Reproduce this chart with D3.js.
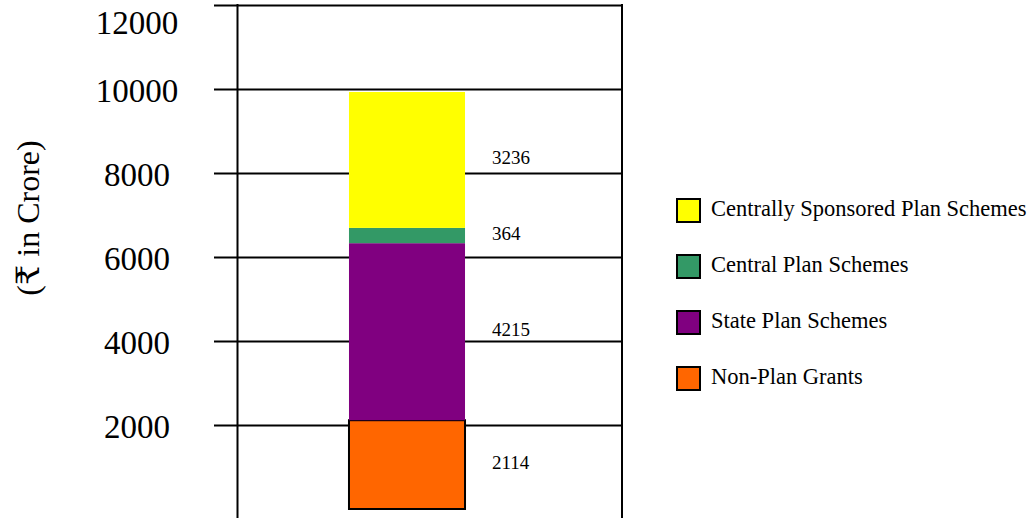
<!DOCTYPE html>
<html>
<head>
<meta charset="utf-8">
<script src="https://cdn.jsdelivr.net/npm/d3@7/dist/d3.min.js"></script>
<style>
  html, body { margin: 0; padding: 0; background: #fff; }
  svg { display: block; font-family: "Liberation Serif", "DejaVu Serif", serif; }
</style>
</head>
<body>
<div class="chartView"></div>
<script>
// --- data
var categories = ['Grants'];
var seriesNames = ['Non-Plan Grants', 'State Plan Schemes', 'Central Plan Schemes', 'Centrally Sponsored Plan Schemes'];
var seriesValues = [2114, 4215, 364, 3236];
var seriesColors = ['#ff6600', '#800080', '#339966', '#ffff00'];
var yTicks = [2000, 4000, 6000, 8000, 10000, 12000];
var yLabel = '(\u20B9 in Crore)';

var width = 1034, height = 518;

var svg = d3.select('.chartView').append('svg')
  .attr('width', width)
  .attr('height', height);

//scales
var y = d3.scaleLinear().domain([0, 12000]).range([509, 5]);
var x = d3.scaleBand().domain(categories).range([237.5, 576.5]).padding(0.49);
var plotLeft = 237.5, plotRight = 622, tickLeft = 214;

//gridlines + tick labels, drawn from the right edge leftwards
var axis = svg.append('g')
  .attr('transform', 'translate(' + plotRight + ',0)')
  .call(d3.axisLeft(y).tickValues(yTicks).tickSize(plotRight - tickLeft).tickFormat(d3.format('d')));
axis.select('.domain').remove();
axis.selectAll('.tick line').attr('stroke', '#000').attr('stroke-width', 2);
axis.selectAll('.tick text')
  .attr('x', 137 - plotRight)
  //baseline just under the line, but keep the top label inside the picture
  .attr('y', function(d) { return Math.max(12, 33 - y(d)); })
  .attr('dy', 0)
  .attr('text-anchor', 'middle')
  .attr('fill', '#000')
  .style('font-size', '33px')
  .style('font-family', '"Liberation Serif", serif');

//vertical frame lines
[plotLeft, plotRight].forEach(function(px) {
  svg.append('line')
    .attr('x1', px).attr('x2', px)
    .attr('y1', y(12000) - 1).attr('y2', height)
    .attr('stroke', '#000').attr('stroke-width', 2);
});

//stack the segments
var stacked = [];
var base = 0;
seriesValues.forEach(function(v, i) {
  stacked.push({ name: seriesNames[i], value: v, color: seriesColors[i], y0: base, y1: base + v });
  base += v;
});

svg.selectAll('rect.seg')
  .data(stacked)
  .enter()
  .append('rect')
  .attr('class', 'seg')
  .attr('x', x(categories[0]))
  .attr('width', x.bandwidth())
  .attr('y', function(d) { return y(d.y1); })
  .attr('height', function(d) { return y(d.y0) - y(d.y1); })
  .attr('fill', function(d) { return d.color; })
  .attr('stroke', function(d, i) { return i === 0 ? '#000' : 'none'; })
  .attr('stroke-width', 2);

//value labels beside each segment
svg.selectAll('text.val')
  .data(stacked)
  .enter()
  .append('text')
  .attr('class', 'val')
  .attr('x', x(categories[0]) + x.bandwidth() + 27)
  .attr('y', function(d) { return (y(d.y0) + y(d.y1)) / 2; })
  .attr('dominant-baseline', 'middle')
  .style('font-size', '19px')
  .text(function(d) { return d.value; });

//y axis title
svg.append('text')
  .attr('transform', 'translate(32,218) rotate(-90)')
  .attr('text-anchor', 'middle')
  .attr('dominant-baseline', 'middle')
  .style('font-size', '32px')
  .text(yLabel);

//legend, top entry is the top segment
var legend = svg.selectAll('g.legend')
  .data(stacked.slice().reverse())
  .enter()
  .append('g')
  .attr('class', 'legend')
  .attr('transform', function(d, i) { return 'translate(677,' + (199 + i * 56) + ')'; });

legend.append('rect')
  .attr('width', 23).attr('height', 23)
  .attr('fill', function(d) { return d.color; })
  .attr('stroke', '#000').attr('stroke-width', 2);

legend.append('text')
  .attr('x', 34)
  .attr('y', 12)
  .attr('dominant-baseline', 'middle')
  .style('font-size', '22.5px')
  .text(function(d) { return d.name; });
</script>
</body>
</html>
